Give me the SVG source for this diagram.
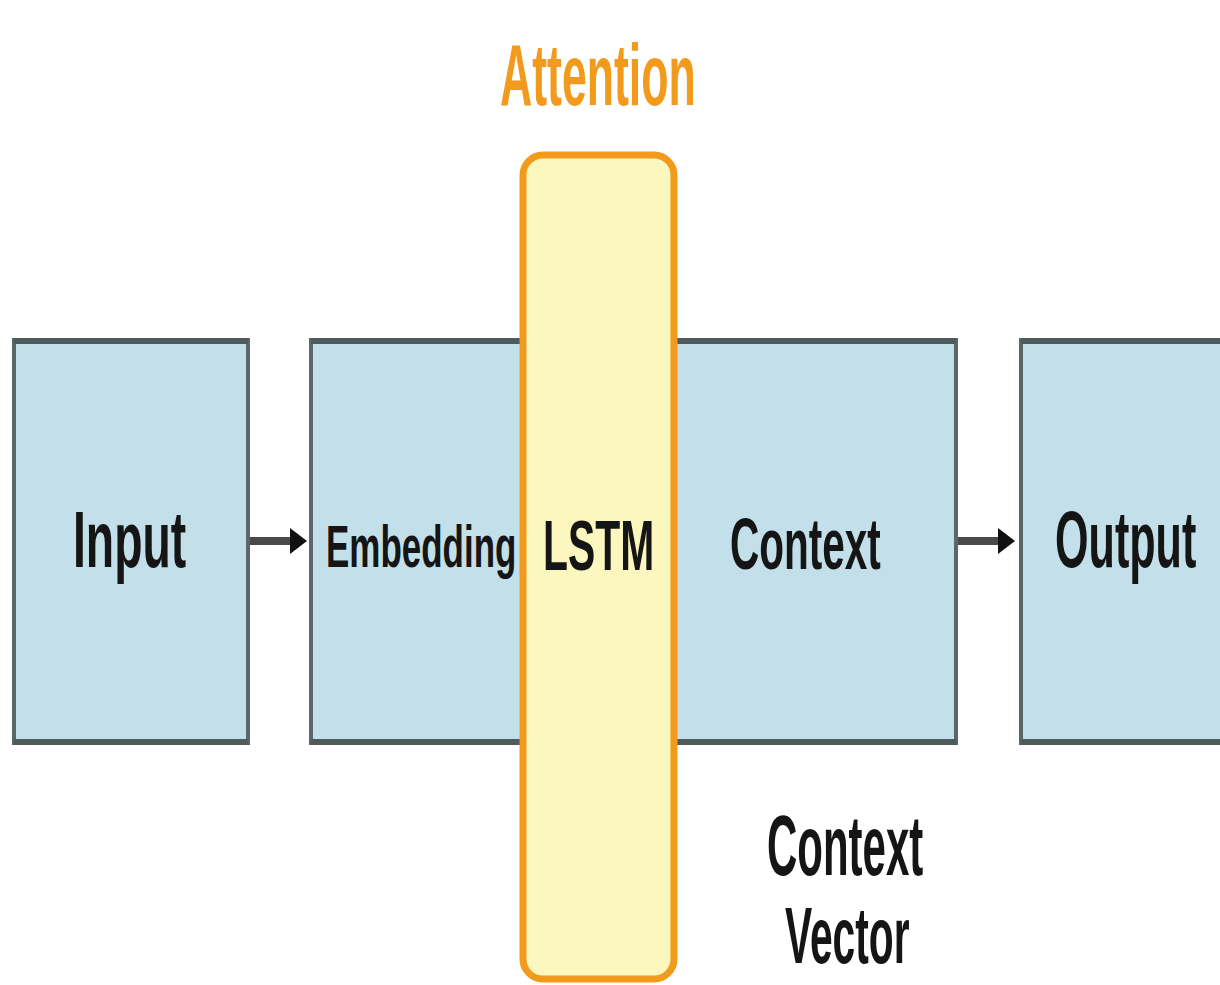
<svg xmlns="http://www.w3.org/2000/svg" width="1220" height="985" viewBox="0 0 1220 985">
<style>
.box{fill:#c3e0ea;stroke:#5b6669;stroke-width:4}
.band{stroke:#4f5a5d;stroke-width:6}
.lbl{font-family:"Liberation Sans",Arial,sans-serif;font-weight:bold;fill:#151515;text-anchor:start}
.att{fill:#fbf7bf;stroke:#f29a1c;stroke-width:7}
.conn{stroke:#4a4a4a;stroke-width:8;fill:none}
</style>
<defs>
<marker id="ah" viewBox="0 0 17 26" refX="2" refY="13" markerWidth="17" markerHeight="26" orient="auto" markerUnits="userSpaceOnUse">
<path d="M0,0 L17,13 L0,26 z" fill="#111"/>
</marker>
</defs>
<rect width="1220" height="985" fill="#fff"/>
<g id="node-input">
<rect class="box" x="14" y="340" width="234" height="403"/>
<line class="band" x1="14" y1="341" x2="248" y2="341"/>
<line class="band" x1="14" y1="742" x2="248" y2="742"/>
<text class="lbl" transform="translate(73,567) scale(0.579,1)" font-size="80">Input</text>
</g>
<g id="node-embedding-context">
<rect class="box" x="311" y="340" width="645" height="403"/>
<line class="band" x1="311" y1="341" x2="956" y2="341"/>
<line class="band" x1="311" y1="742" x2="956" y2="742"/>
<text class="lbl" transform="translate(326,567) scale(0.583,1)" font-size="60">Embedding</text>
<text class="lbl" transform="translate(730,569) scale(0.563,1)" font-size="72">Context</text>
</g>
<g id="node-output">
<rect class="box" x="1021" y="340" width="210" height="403"/>
<line class="band" x1="1021" y1="341" x2="1230" y2="341"/>
<line class="band" x1="1021" y1="742" x2="1230" y2="742"/>
<text class="lbl" transform="translate(1055,567) scale(0.546,1)" font-size="79">Output</text>
</g>
<g id="node-lstm">
<rect class="att" x="523" y="155" width="151" height="824" rx="20"/>
<text class="lbl" transform="translate(543,570) scale(0.584,1)" font-size="70">LSTM</text>
</g>
<g id="label-attention">
<text class="lbl" transform="translate(500,105) scale(0.507,1)" font-size="88" style="fill:#f29a1c">Attention</text>
</g>
<g id="label-context-vector">
<text class="lbl" transform="translate(767,875) scale(0.488,1)" font-size="86">Context</text>
<text class="lbl" transform="translate(785,963) scale(0.509,1)" font-size="80">Vector</text>
</g>
<g id="connectors">
<line class="conn" x1="250" y1="541" x2="292" y2="541" marker-end="url(#ah)"/>
<line class="conn" x1="958" y1="541" x2="1000" y2="541" marker-end="url(#ah)"/>
</g>
</svg>
